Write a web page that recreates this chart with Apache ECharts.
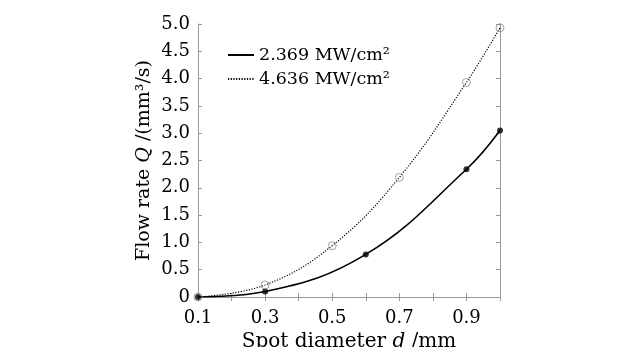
<!DOCTYPE html>
<html>
<head>
<meta charset="utf-8">
<script src="https://cdn.jsdelivr.net/npm/echarts@6/dist/echarts.min.js"></script>
<style>
  html, body { margin: 0; padding: 0; background: #fff; }
  #chart { width: 618px; height: 347px; }
</style>
</head>
<body>
<div id="chart"></div>
<script>
// spot diameter (mm) vs flow rate (mm^3/s)
const lowD = [0.1, 0.3, 0.6, 0.9, 1.0];
const lowQ = [0.0, 0.10, 0.78, 2.34, 3.05];
const highD = [0.1, 0.3, 0.5, 0.7, 0.9, 1.0];
const highQ = [0.0, 0.22, 0.94, 2.19, 3.93, 4.93];
const seriesNames = ['2.369 MW/cm²', '4.636 MW/cm²'];

const pairs = (xs, ys) => xs.map((x, i) => [x, ys[i]]);
const font = 'DejaVu Serif';

const chart = echarts.init(document.getElementById('chart'));

const tickStyle = { show: true, inside: true, length: 4, lineStyle: { color: '#999' } };
const lineStyle = { show: true, lineStyle: { color: '#999', width: 1 } };

chart.setOption({
  backgroundColor: '#fff',
  animation: false,
  grid: { left: 198, right: 118, top: 24, bottom: 50, outerBoundsMode: 'none', containLabel: false },
  legend: {
    orient: 'vertical',
    left: 222,
    top: 41,
    itemWidth: 26,
    itemHeight: 10,
    itemGap: 6,
    itemStyle: { opacity: 0 },
    textStyle: { fontFamily: font, fontSize: 17.5, color: '#000' },
    data: seriesNames
  },
  xAxis: [
    {
      type: 'value', min: 0.1, max: 1.0, interval: 0.1,
      axisLine: lineStyle, axisTick: tickStyle, splitLine: { show: false },
      axisLabel: {
        fontFamily: font, fontSize: 18, color: '#000', margin: 12,
        formatter: v => {
          const k = Math.round(v * 10);
          return (k % 2 === 1 && k < 10) ? v.toFixed(1) : '';
        }
      },
      name: '{a|Spot diameter }{i|d}{a| /mm}',
      nameLocation: 'middle', nameGap: 34,
      nameTextStyle: {
        rich: {
          a: { fontFamily: font, fontSize: 20, color: '#000' },
          i: { fontFamily: font, fontSize: 20, fontStyle: 'italic', color: '#000' }
        }
      }
    },
    {
      type: 'value', position: 'top', min: 0.1, max: 1.0, interval: 0.1,
      axisLine: lineStyle, axisTick: tickStyle, axisLabel: { show: false }, splitLine: { show: false }
    }
  ],
  yAxis: [
    {
      type: 'value', min: 0, max: 5, interval: 0.5,
      axisLine: lineStyle, axisTick: tickStyle, splitLine: { show: false },
      axisLabel: {
        fontFamily: font, fontSize: 18, color: '#000', margin: 8,
        formatter: v => v === 0 ? '0' : v.toFixed(1)
      },
      name: '{a|Flow rate }{i|Q}{a| /(mm³/s)}',
      nameLocation: 'middle', nameGap: 44,
      nameTextStyle: {
        rich: {
          a: { fontFamily: font, fontSize: 19, color: '#000' },
          i: { fontFamily: font, fontSize: 19, fontStyle: 'italic', color: '#000' }
        }
      }
    },
    {
      type: 'value', position: 'right', min: 0, max: 5, interval: 0.5,
      axisLine: lineStyle, axisTick: tickStyle, axisLabel: { show: false }, splitLine: { show: false }
    }
  ],
  series: [
    {
      name: seriesNames[0], type: 'line', smooth: 0.4, symbol: 'none',
      data: pairs(lowD, lowQ),
      lineStyle: { color: '#000', width: 1.6, type: 'solid' },
      itemStyle: { color: '#000' }
    },
    {
      name: seriesNames[1], type: 'line', smooth: 0.4, symbol: 'none',
      data: pairs(highD, highQ),
      lineStyle: { color: '#000', width: 1.2, type: [1.2, 1.5] },
      itemStyle: { color: '#000' }
    },
    {
      type: 'scatter', symbol: 'circle', symbolSize: 6,
      data: pairs(lowD, lowQ),
      itemStyle: { color: '#000' }, z: 5
    },
    {
      type: 'scatter', symbol: 'circle', symbolSize: 8,
      data: pairs(highD, highQ),
      itemStyle: { color: 'rgba(255,255,255,0)', borderColor: '#888', borderWidth: 1 }, z: 5
    }
  ]
});
</script>
</body>
</html>
